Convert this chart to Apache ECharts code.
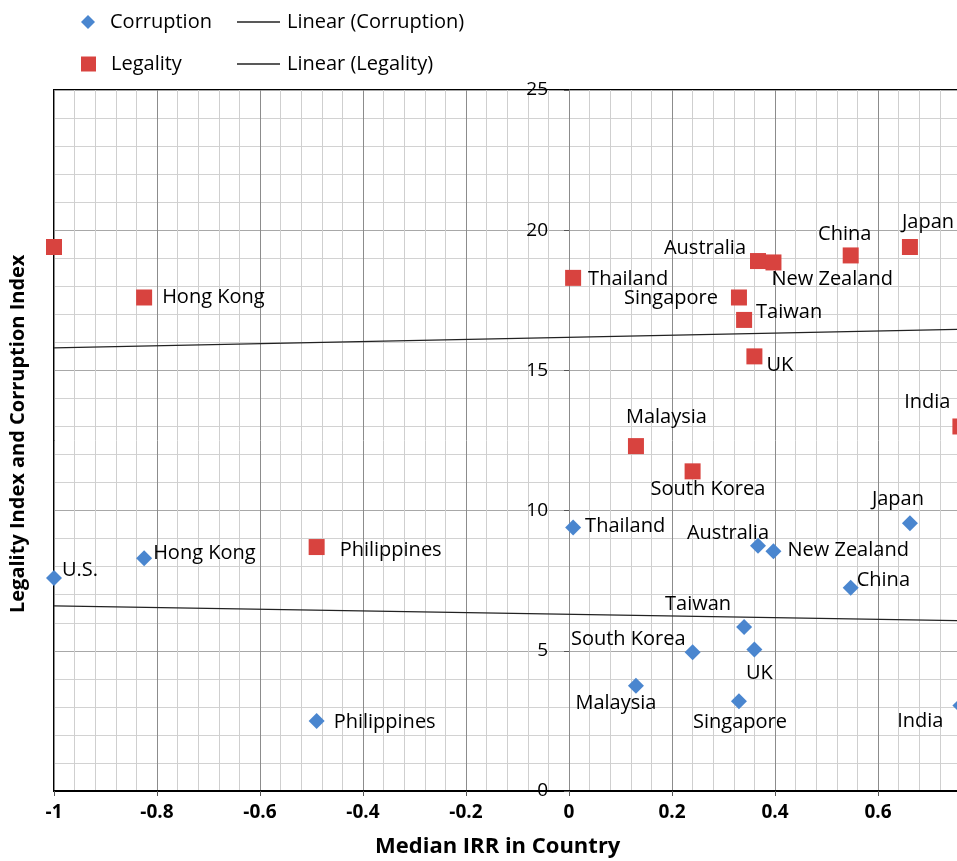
<!DOCTYPE html>
<html>
<head>
<meta charset="utf-8">
<script src="https://cdn.jsdelivr.net/npm/echarts@6/dist/echarts.min.js"></script>
<style>
html,body{margin:0;padding:0;background:#fff;}
#chart{width:957px;height:861px;}
</style>
</head>
<body>
<div id="chart"></div>
<script>
// ---- data ----
const countries = ['U.S.','Hong Kong','Philippines','Thailand','Malaysia','South Korea','Singapore','Taiwan','Australia','UK','New Zealand','China','Japan','India'];
const medianIRR = [-1, -0.825, -0.49, 0.008, 0.13, 0.24, 0.33, 0.34, 0.367, 0.36, 0.397, 0.547, 0.662, 0.76];
const legality  = [19.4, 17.6, 8.7, 18.3, 12.3, 11.4, 17.6, 16.8, 18.9, 15.5, 18.85, 19.1, 19.4, 13.0];
const corruption = [7.6, 8.3, 2.5, 9.4, 3.75, 4.95, 3.2, 5.85, 8.75, 5.05, 8.55, 7.25, 9.55, 3.05];
const trendCorruptionX = [-1, 0.8];
const trendCorruptionY = [6.6, 6.06];
const trendLegalityX = [-1, 0.8];
const trendLegalityY = [15.8, 16.48];
const xTicks = [-1, -0.8, -0.6, -0.4, -0.2, 0, 0.2, 0.4, 0.6, 0.8];
const yTicks = [0, 5, 10, 15, 20, 25];

// ---- label placement (style, not data): [align, dx, dy] ----
const legLabelPlace = {
  'U.S.': null,
  'Hong Kong': ['left', 18, 0],
  'Philippines': ['left', 23, 3],
  'Thailand': ['left', 15, 1],
  'Australia': ['right', -12, -13],
  'New Zealand': ['left', -2, 17],
  'Singapore': ['right', -21, 1],
  'Taiwan': ['left', 12, -8],
  'UK': ['left', 12, 9],
  'China': ['center', -6, -21],
  'Japan': ['left', -8, -25],
  'Malaysia': ['left', -10, -29],
  'South Korea': ['left', -42, 18],
  'India': ['right', -10, -24]
};
const corLabelPlace = {
  'U.S.': ['left', 8, -8],
  'Hong Kong': ['left', 9, -5],
  'Philippines': ['left', 17, 1],
  'Thailand': ['left', 12, -1],
  'Australia': ['right', 11, -12],
  'New Zealand': ['left', 14, -1],
  'Japan': ['center', -12, -24],
  'China': ['left', 6, -7],
  'Taiwan': ['right', -13, -23],
  'UK': ['center', 5, 24],
  'South Korea': ['right', -7, -13],
  'Malaysia': ['center', -20, 17],
  'Singapore': ['center', 1, 21],
  'India': ['right', -17, 16]
};

const FONT = 'Open Sans';
const labelStyle = {fontFamily: FONT, fontSize: 20, color: '#000'};

function buildPoints(values, place) {
  return countries.map((c, i) => {
    const p = place[c];
    const item = {name: c, value: [medianIRR[i], values[i]]};
    if (p) {
      item.label = Object.assign({show: true, position: 'inside', align: p[0], verticalAlign: 'middle', offset: [p[1], p[2]], formatter: c}, labelStyle);
    } else {
      item.label = {show: false};
    }
    return item;
  });
}

const chart = echarts.init(document.getElementById('chart'), null, {renderer: 'canvas'});

const legendBase = {
  orient: 'horizontal',
  itemGap: 0,
  textStyle: {fontFamily: FONT, fontSize: 20, color: '#000', padding: [0, 0, 0, 10]}
};

chart.setOption({
  animation: false,
  backgroundColor: '#fff',
  grid: {left: 54, right: -24, top: 90, bottom: 70, show: true, borderColor: '#000', borderWidth: 2,
    containLabel: false, outerBoundsMode: 'none'},
  legend: [
    Object.assign({}, legendBase, {data: [{name: 'Corruption', icon: 'diamond'}], left: 76, top: 7, itemWidth: 14, itemHeight: 14}),
    Object.assign({}, legendBase, {data: [{name: 'Linear (Corruption)', icon: 'rect'}], left: 232, top: 7, itemWidth: 43, itemHeight: 1.5, textStyle: Object.assign({}, legendBase.textStyle, {padding: [0,0,0,2]})}),
    Object.assign({}, legendBase, {data: [{name: 'Legality', icon: 'rect'}], left: 76, top: 49, itemWidth: 15, itemHeight: 15}),
    Object.assign({}, legendBase, {data: [{name: 'Linear (Legality)', icon: 'rect'}], left: 232, top: 49, itemWidth: 43, itemHeight: 1.5, textStyle: Object.assign({}, legendBase.textStyle, {padding: [0,0,0,2]})})
  ],
  xAxis: {
    type: 'value', min: -1, max: 0.8, interval: 0.2,
    axisLine: {show: true, onZero: false, lineStyle: {color: '#000', width: 2}},
    axisTick: {show: true, length: 5, lineStyle: {color: '#555'}},
    axisLabel: {fontFamily: FONT, fontSize: 19, fontWeight: 'bold', color: '#000', margin: 12,
      customValues: xTicks,
      formatter: v => String(Math.round(v * 10) / 10)},
    splitLine: {show: true, lineStyle: {color: '#8c8c8c', width: 1}},
    minorTick: {show: false, splitNumber: 5},
    minorSplitLine: {show: true, lineStyle: {color: '#cfcfcf', width: 1}}
  },
  yAxis: {
    type: 'value', min: 0, max: 25, interval: 5,
    position: 'left', offset: -515,
    axisLine: {show: true, onZero: false, lineStyle: {color: '#8c8c8c', width: 1}},
    axisTick: {show: true, length: 5, inside: false, lineStyle: {color: '#555'}},
    axisLabel: {fontFamily: FONT, fontSize: 19, color: '#000', margin: 21,
      customValues: yTicks},
    splitLine: {show: true, lineStyle: {color: '#a8a8a8', width: 1}},
    minorTick: {show: false, splitNumber: 5},
    minorSplitLine: {show: true, lineStyle: {color: '#d2d2d2', width: 1}}
  },
  graphic: [
    {type: 'text', left: 375, top: 836, style: {text: 'Median IRR in Country', font: 'bold 22px "Open Sans"', fill: '#000'}},
    {type: 'text', x: 8, y: 613, rotation: Math.PI / 2, style: {text: 'Legality Index and Corruption Index', font: 'bold 20px "Open Sans"', fill: '#000'}}
  ],
  series: [
    {
      name: 'Linear (Corruption)', type: 'line', symbol: 'none', silent: true,
      lineStyle: {color: '#222', width: 1.2},
      data: trendCorruptionX.map((x, i) => [x, trendCorruptionY[i]]),
      z: 2
    },
    {
      name: 'Linear (Legality)', type: 'line', symbol: 'none', silent: true,
      lineStyle: {color: '#222', width: 1.2},
      data: trendLegalityX.map((x, i) => [x, trendLegalityY[i]]),
      z: 2
    },
    {
      name: 'Corruption', type: 'scatter', symbol: 'diamond', symbolSize: 16,
      itemStyle: {color: '#4a86cf', opacity: 1},
      data: buildPoints(corruption, corLabelPlace), z: 3
    },
    {
      name: 'Legality', type: 'scatter', symbol: 'rect', symbolSize: 16,
      itemStyle: {color: '#d8433f', opacity: 1},
      data: buildPoints(legality, legLabelPlace), z: 3
    }
  ],
  color: ['#222', '#222', '#4a86cf', '#d8433f']
});
</script>
</body>
</html>
